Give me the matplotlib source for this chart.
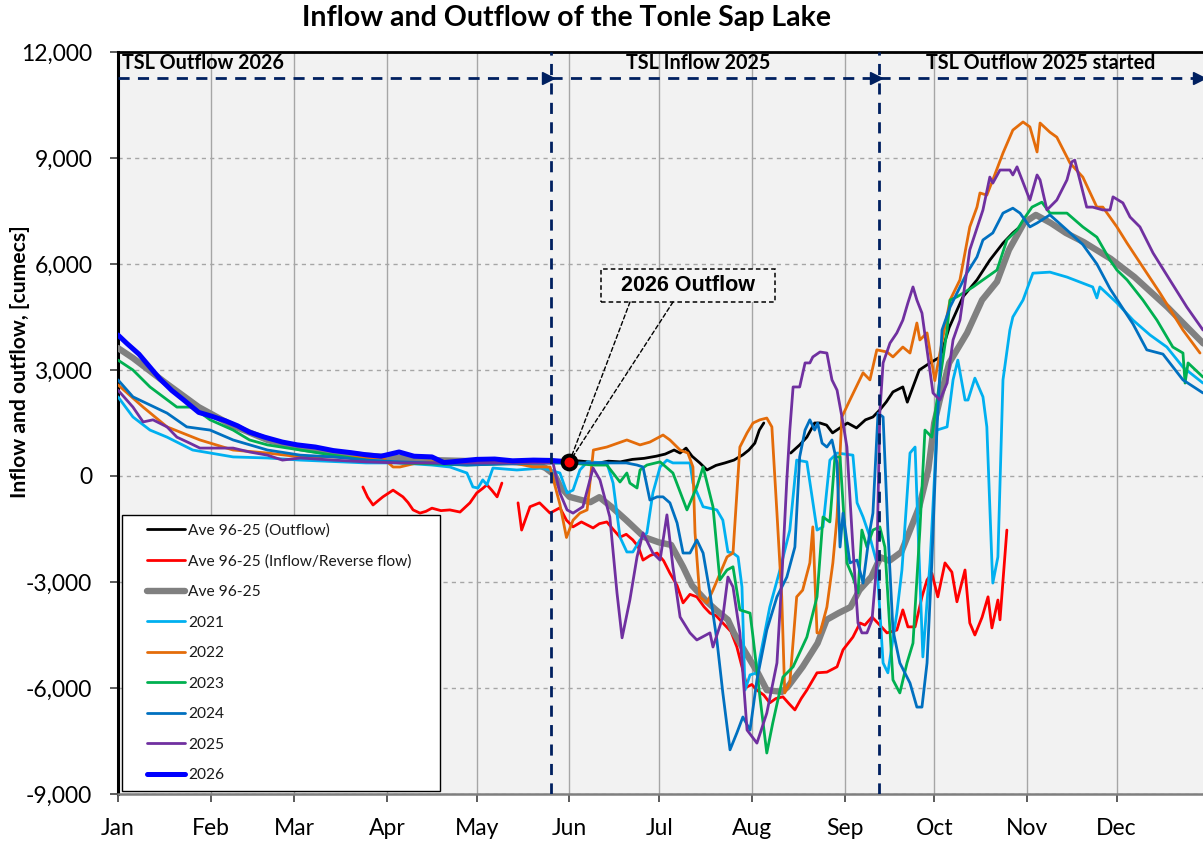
import numpy as np
import matplotlib
matplotlib.use("Agg")
import matplotlib.pyplot as plt
from matplotlib.patches import Rectangle
from matplotlib.legend_handler import HandlerLine2D

plt.rcParams['font.family'] = ['Lato', 'DejaVu Sans']
nan = float('nan')

# ---------------- data (day of year, cumecs) ----------------
month_days = [0, 31, 59, 90, 120, 151, 181, 212, 243, 273, 304, 334]
month_labels = ['Jan', 'Feb', 'Mar', 'Apr', 'May', 'Jun', 'Jul', 'Aug', 'Sep', 'Oct', 'Nov', 'Dec']
y_ticks = [-9000, -6000, -3000, 0, 3000, 6000, 9000, 12000]

ave_outflow = [(151, 450), (155, 420), (161, 370), (164, 420), (168, 400), (172, 470), (176, 500), (180, 560),
               (183, 620), (186, 735), (188, 650), (190, 790), (192, 560), (194.6, 370), (197, 170), (200, 300),
               (203, 370), (206, 450), (209, 600), (211, 735), (213, 930), (214.5, 1300), (216, 1500), (220, nan),
               (225, 650), (228, 880), (230.4, 1100), (233, 1500), (234.8, 1500), (237, 1440), (239, 1220),
               (242, 1390), (244, 1500), (247, 1360), (250, 1590), (252.5, 1670), (254.8, 1870), (257, 2100),
               (259.2, 2380), (262.5, 2520), (264, 2090), (268, 3000), (271.6, 3200), (275, 3370), (278, 4200),
               (282.6, 5070), (287.3, 5550), (291.6, 6110), (296, 6590), (299.3, 6880), (303, 7150)]

ave_inflow = [(81.9, -310), (83.5, -600), (85.3, -820), (87, -700), (88.6, -590), (92, -400), (95.3, -590),
              (97, -750), (98.7, -960), (101, -1050), (103, -1000), (105, -910), (108, -980), (111, -960),
              (114.4, -1020), (117.7, -760), (120, -480), (122, -350), (123.4, -250), (125, -400), (126.8, -590),
              (128.4, -200), (131, nan), (133.8, -760), (135, -1530), (137.8, -870), (141, -760), (144.5, -1050),
              (147.8, -900), (150, -1250), (152.2, -1440), (155, -1300), (158.9, -1470), (161, -1350),
              (163.5, -1300), (165.5, -1500), (167.9, -1730), (170, -1650), (172.2, -1810), (174, -2000),
              (175.6, -2380), (178, -2250), (180.3, -2180), (182.5, -2400), (184.6, -2750), (187, -3100),
              (189, -3590), (191.3, -3350), (193.6, -3420), (196, -3700), (198, -3880), (200, -3950),
              (202.3, -4160), (205, -4400), (207, -4840), (209, -5500), (210.4, -5970), (212, -5900),
              (213.7, -6060), (216, -6200), (218, -6420), (220, -6300), (222.4, -6250), (224.5, -6450),
              (226.4, -6620), (228.5, -6300), (230.4, -6060), (233.8, -5570), (237.1, -5550), (240.5, -5400),
              (242.5, -4920), (245.8, -4560), (248.2, -4160), (249.8, -4220), (252.2, -3990), (254.8, -4220),
              (257.2, -4440), (260.5, -4360), (262.5, -3790), (264.2, -4270), (266.6, -4270), (268.9, -3420),
              (270.6, -2940), (272.2, -2750), (274.2, -3420), (276.6, -2460), (278.9, -2720), (280.6, -3560),
              (281.6, -3230), (283.3, -2660), (284.9, -4160), (286.6, -4500), (289, -4000), (291, -3420),
              (292.3, -4300), (294.3, -3510), (295, -4070), (297.3, -1530)]

ave_all = [(0, 3620), (5, 3340), (16, 2630), (27, 1950), (38, 1440), (50, 1020), (61, 790), (72, 650), (89, 540),
           (105, 450), (128, 400), (139, 370), (143, 225), (146, 30), (148, -310), (151, -590), (155, -680),
           (158, -740), (161, -600), (165, -870), (170, -1250), (176, -1730), (181, -1880), (185, -1950),
           (189, -2570), (192, -3100), (197, -3560), (200, -3790), (204, -4070), (206, -4440), (210, -5010),
           (214, -5570), (217, -6060), (222, -6110), (224, -5970), (229, -5400), (234, -4730), (237, -4070),
           (241, -3880), (245, -3710), (248, -3230), (252, -2850), (255, -2300), (258, -2400), (262, -2150),
           (264, -1730), (268, -870), (271, 170), (273, 1500), (275, 2200), (278, 3200), (284, 4050),
           (289, 4980), (294, 5500), (298, 6400), (303, 7160), (307, 7390), (312, 7160), (317, 6880),
           (323, 6620), (332, 6150), (340, 5630), (351, 4780), (363, 3750)]

y2021 = [(0, 2240), (5, 1670), (10.7, 1300), (16.4, 1100), (25, 735), (38.5, 540), (50, 510), (61, 450), (83, 370),
         (94, 370), (105, 310), (111, 255), (116.7, 85), (118.7, -310), (120.4, -340), (122, -110), (123.4, -250),
         (125.4, 225), (133.4, 170), (142, 225), (147.8, 85), (150.2, -480), (152.2, -400), (154.5, 170),
         (157, 400), (163.5, 370), (165.6, -200), (167.9, -1730), (170.2, -2150), (172.2, -2150), (174.6, -1810),
         (176.9, -1610), (178.9, -480), (181.3, 255), (183.6, 450), (185.6, 370), (191.3, 370), (192.3, -200),
         (195.7, -870), (200.3, -960), (202.3, -1250), (204, -2150), (205.7, -2180), (207.4, -2290),
         (208.7, -3140), (209.7, -6060), (211.4, -5630), (213.7, -5570), (218, -3710), (221.4, -2660),
         (224.7, -1530), (227, 450), (230.4, 400), (233.8, -1530), (235.8, -1440), (238.1, 450), (240.5, 650),
         (245.8, 590), (247.2, -760), (249.2, -1160), (251.5, -1730), (253.8, -2460), (255.9, -5290),
         (257.5, -5570), (260.5, -3880), (262.2, -2660), (264.9, 650), (266.6, 820), (267.6, -1530),
         (269.2, -5120), (271.6, -2460), (273.9, 1300), (277.3, 1390), (279.3, 2720), (280.9, 3280),
         (283.3, 2150), (284.3, 2150), (286.6, 2770), (289.3, 2240), (290.6, 1390), (292.3, -2460),
         (292.6, -3030), (294.3, -2290), (296, 2720), (298.3, 4130), (299.3, 4500), (302.7, 4980), (306, 5740),
         (311.7, 5770), (317.4, 5630), (321.7, 5490), (326, 5350), (327.4, 5040), (328.4, 5350), (334.1, 4900),
         (339.5, 4410), (345.2, 3990), (350.8, 3650), (356.2, 3080), (362.9, 2630)]

y2022 = [(0, 2580), (8.4, 1950), (16.4, 1390), (27.4, 1020), (38.5, 735), (50, 650), (61, 540), (72, 540),
         (88.6, 510), (92, 255), (94.3, 255), (100, 370), (105, 400), (116.7, 370), (127.8, 450), (138.8, 255),
         (144.5, 255), (147.8, -800), (150, -1740), (152.2, -1250), (154.5, -1050), (156.9, -960), (159, 735),
         (163.5, 820), (170.2, 1020), (174.6, 880), (177.9, 960), (182.3, 1160), (184.6, 1020), (188, 735),
         (190.6, 650), (192.3, 255), (193, -1610), (194.6, -3420), (197, -3590), (199, -3230), (203.7, -2290),
         (205.7, -2180), (208, 820), (210.4, 1220), (212.4, 1500), (214.7, 1590), (217, 1640), (218.7, 1390),
         (220.4, -1050), (222, -3420), (223, -6140), (224.7, -5860), (227, -3420), (229, -3230), (231.4, -2460),
         (232.4, -1440), (233.8, -4440), (234.8, -4440), (237.1, -3710), (239.1, -2460), (240.5, -1160),
         (242.1, 1670), (244.8, 2150), (249.2, 2920), (251.5, 2720), (253.8, 3570), (257.2, 3510), (259.2, 3370),
         (262.5, 3650), (264.9, 3480), (267.2, 4330), (268.2, 3850), (270.6, 4050), (273.2, 2700), (274.9, 3480),
         (278.3, 4980), (281.6, 5550), (284.9, 7050), (287.3, 7610), (288.3, 8010), (290.6, 7950), (292.6, 8380),
         (296, 9140), (299.3, 9790), (302.7, 10020), (305, 9880), (307.4, 9170), (308.4, 9990), (311.7, 9730),
         (314, 9590), (318.4, 8860), (322.7, 8460), (327.4, 7610), (329.4, 7610), (334.1, 7050), (337.5, 6590),
         (342.8, 5910), (348.5, 5180), (356.2, 4130), (361.9, 3480)]

y2023 = [(0, 3280), (5, 3000), (10.7, 2520), (19.7, 1950), (25, 1950), (30.8, 1590), (38.5, 1300), (44, 1020),
         (50, 880), (61, 735), (72, 590), (83, 450), (94.3, 370), (116.7, 310), (138.8, 370), (151.2, 370),
         (158.9, 310), (163.5, 310), (167.9, -170), (170.2, 85), (171.2, -200), (173.6, -340), (174.6, 170),
         (176.9, 310), (181.3, 400), (185.6, 85), (190.3, -960), (193.6, -310), (195.7, 255), (199, -870),
         (201.3, -2940), (203.7, -2660), (205.7, -2570), (208, -3790), (211.4, -3880), (212.4, -4560),
         (214.7, -6250), (217, -7840), (219, -6990), (222.4, -5690), (225.8, -5400), (230.4, -4560),
         (233.8, -3420), (235.8, -1160), (238.1, -1300), (239.8, 540), (241.5, 540), (243.8, -2460),
         (245.8, -2860), (247.5, -3310), (248.8, -1530), (250.5, -2010), (252.5, -1530), (254.8, -1440),
         (256.5, -2010), (259.2, -5770), (261.5, -6140), (263.9, -5290), (265.9, -4730), (268.2, -1530),
         (269.9, 1300), (272.2, 1100), (274.9, 2720), (277.3, 4130), (278.3, 4980), (280.6, 5070), (286, 5350),
         (289.3, 5550), (294, 5830), (297.3, 6680), (300.7, 6960), (302.7, 7240), (305.7, 7610), (309, 7750),
         (311.7, 7440), (317.4, 7440), (322.7, 7050), (327.4, 6760), (331.8, 6110), (334.1, 5830), (337.5, 5550),
         (342.8, 4980), (347.5, 4410), (352.8, 3650), (356.2, 3480), (356.9, 2630), (357.9, 3200), (362.9, 2800)]

y2024 = [(0, 2720), (5, 2240), (16.4, 1780), (23, 1390), (30.8, 1300), (38.5, 1020), (50, 735), (61, 590),
         (72, 540), (83, 450), (94.3, 400), (105, 370), (116.7, 310), (139, 370), (170, 370), (173.6, 310),
         (175.6, 255), (177.9, -680), (180.3, -590), (182.3, -590), (184.6, -760), (187, -1330), (189, -2180),
         (191.3, -2180), (193.6, -1810), (195.7, -2180), (198, -3310), (200.3, -4640), (202.3, -6140),
         (204.7, -7750), (207, -7270), (209, -6820), (211.4, -7190), (213.7, -5770), (217, -4360),
         (220.4, -3420), (223.7, -2860), (226.4, -2010), (228, 540), (229.8, 1300), (231.4, 1590), (233, 1300),
         (234, 1500), (235.5, 930), (237.1, 820), (238.8, 1020), (240.5, 370), (241.5, -2010), (242.5, -1050),
         (244.8, -2460), (247.2, -2380), (249.2, -3030), (251.5, -1530), (252.5, -1050), (254.2, 1780),
         (255.9, 1670), (257.5, -1530), (259.2, -4360), (261.5, -5290), (264.9, -5860), (267.2, -6540),
         (268.9, -6540), (270.6, -5290), (272.2, -2460), (273.9, 1300), (275.6, 4130), (278.3, 4780),
         (283.9, 5740), (287.3, 6200), (289.3, 6680), (292.6, 6880), (296, 7440), (299.3, 7580), (301.7, 7440),
         (305, 7050), (307.4, 7160), (311.7, 7390), (317.4, 6960), (322.7, 6550), (327.4, 6000), (331.8, 5300),
         (334.1, 5000), (339.5, 4300), (344.1, 3570), (349.5, 3450), (356.2, 2720), (362.9, 2350)]

y2025 = [(0, 2430), (5, 1950), (8.4, 1530), (11.7, 1590), (16.4, 1390), (19.7, 1100), (24, 930), (27.4, 790),
         (38.5, 790), (44, 680), (50, 590), (55, 450), (61, 510), (72, 450), (83, 400), (94.3, 370), (145.5, 370),
         (147.8, -480), (150.2, -960), (152.2, -1050), (155.5, -870), (158.9, 225), (161.2, -110), (164.5, -1160),
         (166.9, -3310), (168.6, -4580), (171.2, -3510), (173.6, -2290), (175.6, -1610), (178.9, -2180),
         (181.3, -2380), (183.6, -1100), (185.6, -2570), (188, -3990), (191.3, -4440), (193.6, -4640),
         (198, -4440), (199, -4840), (202.3, -3990), (204, -2860), (205.7, -3140), (208, -4440), (210.4, -7190),
         (213.7, -7560), (217, -6710), (220.4, -5290), (222, -2940), (223.7, -110), (224.7, 1300), (225.8, 2520),
         (228, 2520), (229.8, 3200), (231.4, 3200), (232.4, 3370), (234.8, 3510), (237.1, 3480), (238.8, 2720),
         (240.5, 2430), (242.5, 1500), (243.8, 820), (245.8, -2010), (247.5, -4160), (248.8, -4440),
         (250.5, -4440), (252.2, -4070), (253.8, -2460), (254.8, 1780), (255.9, 3200), (258.2, 3760),
         (260.5, 4050), (262.5, 4410), (264.2, 4900), (265.9, 5350), (267.2, 4980), (268.9, 4610), (270.6, 3570),
         (272.6, 2350), (274.9, 2150), (277.3, 2630), (279.3, 3850), (281.6, 4410), (284.9, 6400), (289.3, 7530),
         (291.6, 8460), (292.6, 8290), (295, 8660), (298.3, 8660), (299.3, 8520), (300.7, 8750), (305, 7810),
         (307.4, 8520), (308.4, 8380), (310.7, 7530), (314, 7810), (317.4, 8380), (319, 8890), (320, 8940),
         (321.7, 8380), (324, 7610), (326, 7610), (329.4, 7530), (331.8, 7530), (332.8, 7900), (336.1, 7730),
         (338.5, 7330), (341.8, 7050), (346.2, 6310), (351.8, 5550), (357.5, 4780), (362.9, 4130)]

y2026 = [(0, 3990), (3, 3750), (7, 3450), (10, 3150), (14, 2750), (18, 2420), (22, 2150), (27, 1800), (31, 1700),
         (36, 1560), (40, 1420), (44, 1240), (49, 1100), (55, 960), (60, 880), (66, 820), (72, 720), (78, 660),
         (83, 600), (88, 560), (94, 680), (99, 560), (105, 540), (109, 380), (114, 420), (120, 470), (126, 480),
         (132, 430), (139, 450), (145, 440), (151, 400)]

phase_bounds = [144.8, 254.5]          # vertical separators (day of year)
phase_labels = ['TSL Outflow 2026', 'TSL Inflow 2025', 'TSL Outflow 2025 started']


def xy(pairs):
    a = np.array(pairs, dtype=float)
    return a[:, 0], a[:, 1]


# ---------------- figure ----------------
W, H = 1203, 843
fig = plt.figure(figsize=(W / 100, H / 100), dpi=100)
ax = fig.add_axes([118 / W, (H - 794) / H, (W - 118) / W, (794 - 52) / H])
ax.set_facecolor('#F2F2F2')
ax.set_xlim(0, 362.9)
ax.set_ylim(-9000, 12000)

navy = '#002060'

series = [
    (ave_outflow, 'Ave 96-25 (Outflow)', 'black', 2.0),
    (ave_inflow, 'Ave 96-25 (Inflow/Reverse flow)', '#FF0000', 2.0),
    (ave_all, 'Ave 96-25', '#808080', 4.6),
    (y2021, '2021', '#00B0F0', 2.0),
    (y2022, '2022', '#E46C0A', 2.0),
    (y2023, '2023', '#00B050', 2.0),
    (y2024, '2024', '#0070C0', 2.0),
    (y2025, '2025', '#7030A0', 2.0),
    (y2026, '2026', '#0000FF', 3.6),
]
handles = []
for i, (data, lab, col, lw) in enumerate(series):
    xs, ys = xy(data)
    h, = ax.plot(xs, ys, color=col, lw=lw, label=lab, zorder=3 + i * 0.1,
                 solid_joinstyle='round', solid_capstyle='round')
    handles.append(h)

# grid
ax.set_xticks(month_days)
ax.set_xticklabels(month_labels)
ax.set_yticks(y_ticks)
ax.set_yticklabels([f'{v:,}' for v in y_ticks])
ax.set_axisbelow(True)
ax.xaxis.grid(True, color='#A6A6A6', lw=1.0, ls='-')
ax.yaxis.grid(True, color='#A6A6A6', lw=1.0, ls=(0, (3, 3)))
ax.tick_params(axis='both', direction='out', length=6, width=1.2, color='#404040',
               labelsize=16.5, labelcolor='black')
ax.tick_params(axis='y', pad=12.5)
ax.tick_params(axis='x', pad=11)

ax.spines['right'].set_visible(False)
ax.spines['left'].set_linewidth(2.2)
ax.spines['left'].set_color('black')
ax.spines['top'].set_linewidth(2.0)
ax.spines['top'].set_color('black')
ax.spines['bottom'].set_linewidth(1.8)
ax.spines['bottom'].set_color('#7F7F7F')

# phase separators and arrows
arrow_level = 11263
for b in phase_bounds:
    ax.axvline(b, color=navy, lw=2, ls=(0, (4, 3)), zorder=6)
starts = [0] + phase_bounds
ends = [phase_bounds[0] - 1.0, phase_bounds[1] - 1.0, 361.6]
for s0, e0 in zip(starts, ends):
    ax.plot([s0, e0], [arrow_level, arrow_level], color=navy, lw=2, ls=(0, (4, 3)), zorder=6)
    ax.plot([e0], [arrow_level], marker='>', ms=8, color=navy, mec=navy, zorder=6, clip_on=False)

label_level = 11700
ax.text(1.5, label_level, phase_labels[0], ha='left', va='center', fontsize=14.2, fontweight='bold')
ax.text(194, label_level, phase_labels[1], ha='center', va='center', fontsize=14.2, fontweight='bold')
ax.text(308.5, label_level, phase_labels[2], ha='center', va='center', fontsize=14.2, fontweight='bold')

# annotation for latest 2026 point
d26, v26 = xy(y2026)
last_d, last_v = d26[-1], v26[-1]
ax.plot([last_d], [last_v], 'o', ms=10, mfc='#FF0000', mec='black', mew=2.8, zorder=12)
box_x0, box_x1 = (601 - 118) / 1085, (775 - 118) / 1085
box_y0, box_y1 = (794 - 302) / 742, (794 - 269) / 742
ax.add_patch(Rectangle((box_x0, box_y0), box_x1 - box_x0, box_y1 - box_y0, transform=ax.transAxes,
                       fc='#F4F4F4', ec='black', lw=1.1, ls=(0, (3, 2)), zorder=11))
ax.text((box_x0 + box_x1) / 2, (box_y0 + box_y1) / 2, '2026 Outflow', transform=ax.transAxes,
        ha='center', va='center', fontsize=15.5, fontweight='bold', family='Liberation Sans', zorder=12)
for fx in [(630 - 118) / 1085, (673 - 118) / 1085]:
    ax.annotate('', xy=(last_d, last_v), xycoords='data', xytext=(fx, box_y0), textcoords='axes fraction',
                arrowprops=dict(arrowstyle='-', color='black', lw=1.0, ls=(0, (3, 2)), shrinkA=0, shrinkB=4),
                zorder=11)


class OffsetLine(HandlerLine2D):
    def create_artists(self, legend, orig_handle, xdescent, ydescent, width, height, fontsize, trans):
        arts = super().create_artists(legend, orig_handle, xdescent, ydescent, width, height, fontsize, trans)
        for a in arts:
            xd = np.asarray(a.get_xdata(), dtype=float)
            if len(xd) >= 2:
                a.set_xdata(np.linspace(xd[0] + width * 0.30, xd[-1], len(xd)))
        return arts


leg = ax.legend(handles=handles, loc='upper left',
                bbox_to_anchor=((122 - 118) / 1085, (794 - 789) / 742, 318 / 1085, 274 / 742),
                mode='expand', borderaxespad=0, fontsize=11.2, frameon=True, fancybox=False,
                framealpha=1, facecolor='white', edgecolor='black', handlelength=3.5,
                handletextpad=0.2, labelspacing=1.06, borderpad=0.55,
                handler_map={h: OffsetLine() for h in handles})
leg.get_frame().set_linewidth(1.0)
leg.set_zorder(20)
for t in leg.get_texts():
    t.set_color('#1A1A1A')

fig.text(566 / W, 1 - 18 / H, 'Inflow and Outflow of the Tonle Sap Lake', ha='center', va='center',
         fontsize=20.5, fontweight='bold')
fig.text(20 / W, 1 - 362 / H, 'Inflow and outflow, [cumecs]', rotation=90, ha='center', va='center',
         fontsize=15.2, fontweight='bold')

fig.savefig('out.png', dpi=100)
